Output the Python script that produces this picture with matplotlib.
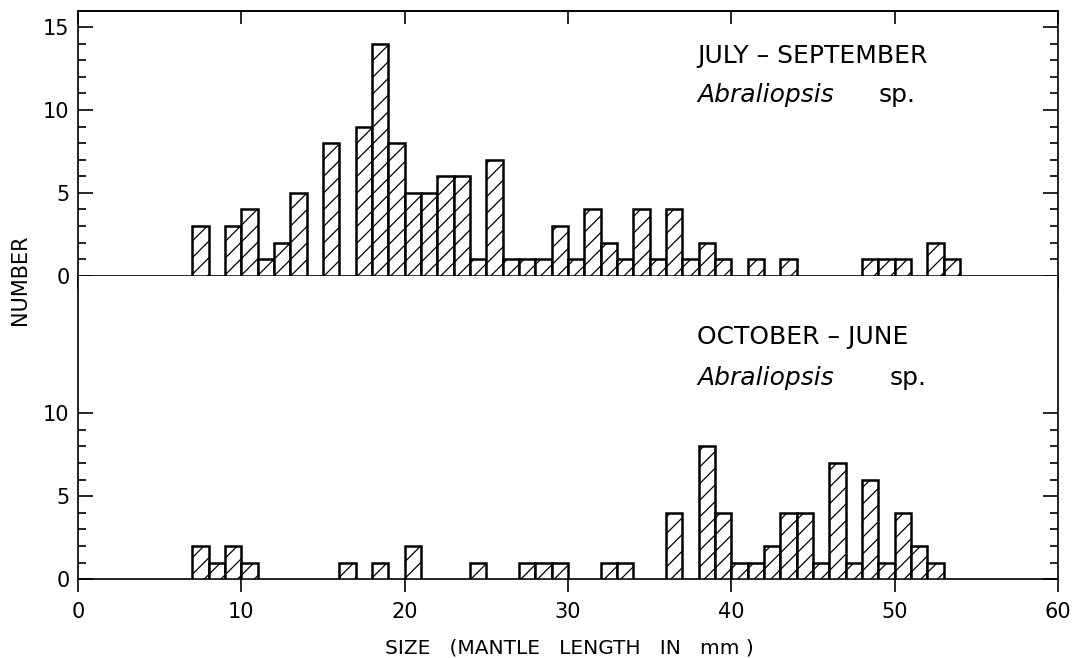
import matplotlib.pyplot as plt
from matplotlib.ticker import FixedLocator

# mantle length bins (left edge, mm) and counts
jul_sep_size = [7, 9, 10, 11, 12, 13, 15, 17, 18, 19, 20, 21, 22, 23, 24, 25, 26, 27,
                28, 29, 30, 31, 32, 33, 34, 35, 36, 37, 38, 39, 41, 43, 48, 49, 50, 52, 53]
jul_sep_count = [3, 3, 4, 1, 2, 5, 8, 9, 14, 8, 5, 5, 6, 6, 1, 7, 1, 1,
                 1, 3, 1, 4, 2, 1, 4, 1, 4, 1, 2, 1, 1, 1, 1, 1, 1, 2, 1]

oct_jun_size = [7, 8, 9, 10, 16, 18, 20, 24, 27, 28, 29, 32, 33, 36, 38, 39, 40, 41,
                42, 43, 44, 45, 46, 47, 48, 49, 50, 51, 52]
oct_jun_count = [2, 1, 2, 1, 1, 1, 2, 1, 1, 1, 1, 1, 1, 4, 8, 4, 1, 1,
                 2, 4, 4, 1, 7, 1, 6, 1, 4, 2, 1]

x_ticks = [0, 10, 20, 30, 40, 50, 60]

plt.rcParams['font.family'] = 'DejaVu Sans'
plt.rcParams['hatch.linewidth'] = 0.9

fig = plt.figure(figsize=(10.76, 6.58), dpi=100)
ax1 = fig.add_axes([0.0725, 0.581, 0.9108, 0.403])
ax2 = fig.add_axes([0.0725, 0.1199, 0.9108, 0.4611])

for ax, sizes, counts in [(ax1, jul_sep_size, jul_sep_count), (ax2, oct_jun_size, oct_jun_count)]:
    ax.bar(sizes, counts, width=1, align='edge', color='white', edgecolor='black',
           linewidth=1.8, hatch='//', zorder=3)
    ax.set_xlim(0, 60)
    ax.set_xticks(x_ticks)
    for s in ax.spines.values():
        s.set_linewidth(1.2)
    ax.tick_params(axis='y', which='both', direction='in', left=True, right=True,
                   labelsize=15, pad=6, width=1.2)
    ax.tick_params(axis='y', which='major', length=11)
    ax.tick_params(axis='y', which='minor', length=6)

# top panel
ax1.set_ylim(0, 16)
ax1.yaxis.set_major_locator(FixedLocator([0, 5, 10, 15]))
ax1.yaxis.set_minor_locator(FixedLocator([i for i in range(1, 16) if i % 5]))
ax1.tick_params(axis='x', direction='out', length=9.5, width=1.2, labelbottom=False)
top = ax1.secondary_xaxis('top')
top.set_xticks(x_ticks)
top.tick_params(direction='in', length=9.5, width=1.2, labeltop=False)
top.spines['top'].set_linewidth(1.2)

# bottom panel
ax2.set_ylim(0, 18.28)
ax2.spines['top'].set_visible(False)
ax2.yaxis.set_major_locator(FixedLocator([0, 5, 10]))
ax2.yaxis.set_minor_locator(FixedLocator([i for i in range(1, 10) if i % 5]))
ax2.tick_params(axis='x', direction='out', length=9.5, width=1.2, labelsize=15, pad=7)

# panel captions
ax1.text(37.9, 12.83, 'JULY – SEPTEMBER', fontsize=18, va='baseline')
ax1.text(37.9, 10.48, 'Abraliopsis', fontsize=18, style='italic', va='baseline')
ax1.text(49.0, 10.48, 'sp.', fontsize=18, va='baseline')
ax2.text(37.9, 14.16, 'OCTOBER – JUNE', fontsize=18, va='baseline')
ax2.text(37.9, 11.69, 'Abraliopsis', fontsize=18, style='italic', va='baseline')
ax2.text(49.7, 11.69, 'sp.', fontsize=18, va='baseline')

fig.text(569 / 1076, 1 - 648 / 658, 'SIZE   (MANTLE   LENGTH   IN   mm )', fontsize=14.5,
         ha='center', va='center')
fig.text(20 / 1076, 1 - 280 / 658, 'NUMBER', fontsize=15, rotation=90,
         ha='center', va='center')

plt.savefig('out.png', dpi=100)
